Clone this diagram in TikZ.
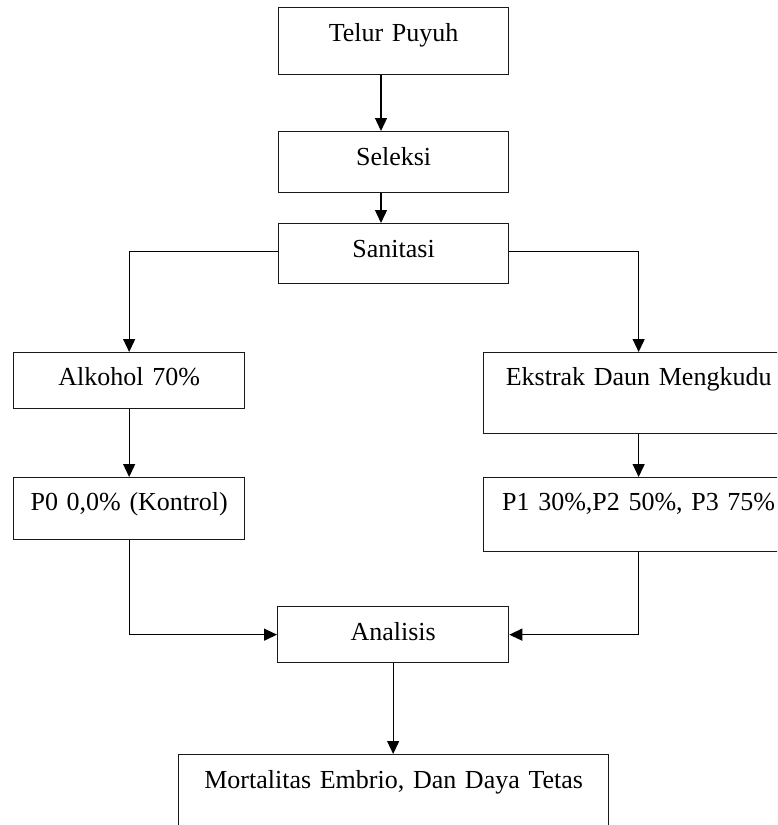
\documentclass[tikz,border=0pt]{standalone}
\usepackage{fontspec}
\setmainfont{Liberation Serif}
\usetikzlibrary{arrows.meta}
\begin{document}
\begin{tikzpicture}[x=1pt,y=-1pt,
  bx/.style={draw=black!90, line width=1.3pt, rectangle, inner sep=0pt, anchor=north west, align=center,
    font=\fontsize{26}{30}\selectfont},
  arr/.style={draw=black, line width=1.3pt, -{Triangle[length=13pt,width=12pt]}}]
\useasboundingbox (0,0) rectangle (777,825);
\clip (0,0) rectangle (777,825);
\node[bx, minimum width=230pt, text width=230pt, text height=34pt, text depth=33pt] (tel) at (278,7) {Telur Puyuh};
\node[bx, minimum width=230pt, text width=230pt, text height=34pt, text depth=27pt] (sel) at (278,131) {Seleksi};
\node[bx, minimum width=230pt, text width=230pt, text height=34pt, text depth=26pt] (san) at (278,223) {Sanitasi};
\node[bx, minimum width=231pt, text width=231pt, text height=33pt, text depth=23pt] (alk) at (13,352) {Alkohol 70\%};
\node[bx, minimum width=231pt, text width=231pt, text height=33pt, text depth=29pt] (p0) at (13,477) {P0 0,0\% (Kontrol)};
\node[bx, minimum width=310pt, text width=306pt, text height=33pt, text depth=48pt] (eks) at (483,352) {Ekstrak Daun Mengkudu\hspace*{4pt}};
\node[bx, minimum width=310pt, text width=306pt, text height=33pt, text depth=41pt] (p1) at (483,477) {P1 30\%,P2 50\%, P3 75\%\hspace*{4pt}};
\node[bx, minimum width=231pt, text width=231pt, text height=34pt, text depth=22pt] (ana) at (277,606) {Analisis};
\node[bx, minimum width=430pt, text width=430pt, text height=34pt, text depth=80pt] (mor) at (178,754) {Mortalitas Embrio, Dan Daya Tetas};
\draw[arr] ([xshift=103pt]tel.south west) -- ([xshift=103pt]sel.north west);
\draw[arr] ([xshift=103pt]sel.south west) -- ([xshift=103pt]san.north west);
\draw[arr] ([yshift=2pt]san.west) -| (alk.north);
\draw[arr] ([yshift=2pt]san.east) -| (eks.north);
\draw[arr] (alk.south) -- (p0.north);
\draw[arr] (eks.south) -- (p1.north);
\draw[arr] (p0.south) |- (ana.west);
\draw[arr] (p1.south) |- (ana.east);
\draw[arr] (ana.south) -- (ana.south |- mor.north);
\end{tikzpicture}
\end{document}
